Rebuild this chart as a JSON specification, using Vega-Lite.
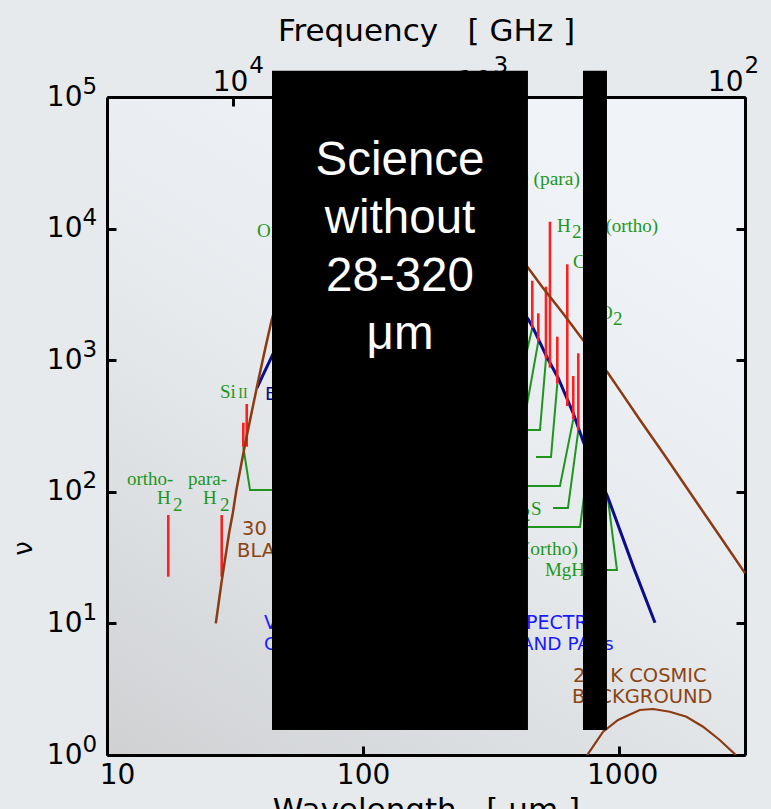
{
  "$schema": "https://vega.github.io/schema/vega-lite/v6.json",
  "width": 638,
  "height": 658,
  "autosize": {"type": "none"},
  "padding": {"left": 107, "top": 97, "right": 26, "bottom": 54},
  "background": "#e7eaed",
  "config": {
    "view": {"stroke": null, "fill": {"gradient": "linear", "x1": 0, "y1": 1, "x2": 0.6, "y2": 0, "stops": [{"offset": 0, "color": "#cfd1d3"}, {"offset": 0.55, "color": "#e7eaed"}, {"offset": 1, "color": "#f0f4f8"}]}},
    "font": "DejaVu Sans",
    "axis": {"grid": false, "domainColor": "#000000", "domainWidth": 3, "tickColor": "#000000", "tickWidth": 3, "labelColor": "#000000", "titleColor": "#000000", "labelFont": "DejaVu Sans", "titleFont": "DejaVu Sans", "labelOverlap": false, "labelFlush": false, "titleFontWeight": "normal"}
  },
  "datasets": {
    "bb30": [
      {"lam": 26.6, "val": 10}, {"lam": 28, "val": 20.5}, {"lam": 30, "val": 49}, {"lam": 31, "val": 69}, {"lam": 32, "val": 103},
      {"lam": 34.6, "val": 230}, {"lam": 36.5, "val": 380}, {"lam": 38.97, "val": 700}, {"lam": 41.5, "val": 1230}, {"lam": 43.96, "val": 2021},
      {"lam": 47, "val": 3200}, {"lam": 50, "val": 4300}, {"lam": 55, "val": 6500}, {"lam": 60, "val": 9200}, {"lam": 70, "val": 15700},
      {"lam": 80, "val": 21600}, {"lam": 100, "val": 29500}, {"lam": 120, "val": 32000}, {"lam": 150, "val": 29800}, {"lam": 200, "val": 22200},
      {"lam": 250, "val": 15600}, {"lam": 300, "val": 11100}, {"lam": 380, "val": 7000}, {"lam": 441.6, "val": 5019}, {"lam": 500, "val": 3620},
      {"lam": 600, "val": 2300}, {"lam": 722.3, "val": 1424}, {"lam": 800, "val": 1085}, {"lam": 904.4, "val": 799}, {"lam": 1000, "val": 600},
      {"lam": 1206, "val": 351}, {"lam": 1500, "val": 191}, {"lam": 2000, "val": 84}, {"lam": 2500, "val": 44.5}, {"lam": 3100, "val": 24.1}
    ],
    "dust": [
      {"lam": 38.53, "val": 615}, {"lam": 40.3, "val": 745}, {"lam": 50, "val": 1800}, {"lam": 60, "val": 3200}, {"lam": 80, "val": 6000},
      {"lam": 100, "val": 8000}, {"lam": 130, "val": 9300}, {"lam": 170, "val": 9000}, {"lam": 220, "val": 7400}, {"lam": 300, "val": 4700},
      {"lam": 380, "val": 3000}, {"lam": 441.6, "val": 2046}, {"lam": 461.9, "val": 1747}, {"lam": 521.2, "val": 1063}, {"lam": 578.5, "val": 729},
      {"lam": 661.9, "val": 395}, {"lam": 724.2, "val": 240}, {"lam": 901.7, "val": 91.8}, {"lam": 1135, "val": 27}, {"lam": 1380, "val": 10.1}
    ],
    "cmb": [
      {"lam": 720, "val": 0.88}, {"lam": 755.9, "val": 1.02}, {"lam": 865.5, "val": 1.503}, {"lam": 990, "val": 1.845}, {"lam": 1203, "val": 2.198},
      {"lam": 1356, "val": 2.236}, {"lam": 1576, "val": 2.133}, {"lam": 1831, "val": 1.954}, {"lam": 2126, "val": 1.641}, {"lam": 2470, "val": 1.3},
      {"lam": 2826, "val": 1.02}, {"lam": 2950, "val": 0.9}
    ],
    "redlines": [
      {"lam": 17.35, "val": 22.64, "val2": 66.63}, {"lam": 28.05, "val": 22.64, "val2": 66.63},
      {"lam": 34.06, "val": 220, "val2": 335}, {"lam": 35.13, "val": 220, "val2": 465},
      {"lam": 457.8, "val": 1750, "val2": 4018}, {"lam": 483.2, "val": 1384, "val2": 2271}, {"lam": 517.9, "val": 1026, "val2": 3620},
      {"lam": 536.8, "val": 879, "val2": 11280}, {"lam": 573.3, "val": 662, "val2": 1509}, {"lam": 627.1, "val": 448, "val2": 5355},
      {"lam": 661.9, "val": 355, "val2": 758}, {"lam": 692.4, "val": 292, "val2": 1128}
    ],
    "leaders": [
      {"grp": "a", "ord": 1, "lam": 34.06, "val": 218.9}, {"grp": "a", "ord": 2, "lam": 36.18, "val": 103.2}, {"grp": "a", "ord": 3, "lam": 56.71, "val": 103.2},
      {"grp": "b", "ord": 1, "lam": 342.3, "val": 695}, {"grp": "b", "ord": 2, "lam": 409.9, "val": 695}, {"grp": "b", "ord": 3, "lam": 457.8, "val": 1756},
      {"grp": "c", "ord": 1, "lam": 342.3, "val": 456.6}, {"grp": "c", "ord": 2, "lam": 436.5, "val": 456.6}, {"grp": "c", "ord": 3, "lam": 483.2, "val": 1385},
      {"grp": "d", "ord": 1, "lam": 342.3, "val": 294.8}, {"grp": "d", "ord": 2, "lam": 490.6, "val": 294.8}, {"grp": "d", "ord": 3, "lam": 517.9, "val": 1026},
      {"grp": "e", "ord": 1, "lam": 473.3, "val": 183.8}, {"grp": "e", "ord": 2, "lam": 541.7, "val": 183.8}, {"grp": "e", "ord": 3, "lam": 573.3, "val": 661.8},
      {"grp": "f", "ord": 1, "lam": 342.3, "val": 110.7}, {"grp": "f", "ord": 2, "lam": 587.3, "val": 110.7}, {"grp": "f", "ord": 3, "lam": 661.9, "val": 354.9},
      {"grp": "g", "ord": 1, "lam": 551.5, "val": 75.3}, {"grp": "g", "ord": 2, "lam": 631.0, "val": 75.3}, {"grp": "g", "ord": 3, "lam": 692.4, "val": 291.7},
      {"grp": "h", "ord": 1, "lam": 342.3, "val": 54.0}, {"grp": "h", "ord": 2, "lam": 703.1, "val": 54.0}, {"grp": "h", "ord": 3, "lam": 769.2, "val": 200.7},
      {"grp": "i", "ord": 1, "lam": 722.3, "val": 25.5}, {"grp": "i", "ord": 2, "lam": 980.4, "val": 25.5}, {"grp": "i", "ord": 3, "lam": 901.7, "val": 91.8}
    ],
    "labels": [
      {"kind": "gL", "t": "ortho-", "lam": 11.97, "val": 112.7},
      {"kind": "gL", "t": "H", "lam": 15.68, "val": 80.8},
      {"kind": "gL", "t": "2", "lam": 18.10, "val": 71.5},
      {"kind": "gL", "t": "para-", "lam": 20.72, "val": 112.7},
      {"kind": "gL", "t": "H", "lam": 23.71, "val": 80.8},
      {"kind": "gL", "t": "2", "lam": 27.63, "val": 71.5},
      {"kind": "gL", "t": "Si", "lam": 27.63, "val": 516.2},
      {"kind": "gL", "t": "O", "lam": 38.53, "val": 8636},
      {"kind": "gL", "t": "N", "lam": 388.5, "val": 15112},
      {"kind": "gL", "t": "H", "lam": 571.7, "val": 9424},
      {"kind": "gL", "t": "2", "lam": 654.2, "val": 8485},
      {"kind": "gL", "t": "O (ortho)", "lam": 748.6, "val": 9424},
      {"kind": "gL", "t": "C", "lam": 660.1, "val": 5019},
      {"kind": "gL", "t": "O", "lam": 834.0, "val": 2056},
      {"kind": "gL", "t": "2", "lam": 945.8, "val": 1851},
      {"kind": "gL", "t": "H", "lam": 364.7, "val": 66.63},
      {"kind": "gL", "t": "2", "lam": 413.6, "val": 59.99},
      {"kind": "gL", "t": "S", "lam": 452.5, "val": 66.63},
      {"kind": "gL", "t": "MgH", "lam": 513.2, "val": 22.92},
      {"kind": "gR", "t": "H₂O (para)", "lam": 703.1, "val": 21448},
      {"kind": "gR", "t": "H₂O (ortho)", "lam": 690.5, "val": 33.1},
      {"kind": "gS", "t": "II", "lam": 32.57, "val": 516.2},
      {"kind": "gS", "t": "I", "lam": 44.44, "val": 15112},
      {"kind": "gS", "t": "I", "lam": 43.70, "val": 8636},
      {"kind": "gS", "t": "I", "lam": 748.6, "val": 5019},
      {"kind": "br", "t": "30 K", "lam": 33.67, "val": 46.96},
      {"kind": "br", "t": "BLACKBODY", "lam": 32.19, "val": 31.96},
      {"kind": "br", "t": "2.7 K COSMIC", "lam": 660.1, "val": 3.587},
      {"kind": "br", "t": "BACKGROUND", "lam": 654.2, "val": 2.484},
      {"kind": "bl1", "t": "VARIOUS GALACTIC DUST SPECTRA", "lam": 41.03, "val": 9.067},
      {"kind": "bl2", "t": "CONTINUUM FROM GRAINS AND PAHs", "lam": 41.03, "val": 6.28},
      {"kind": "nv", "t": "BEST-FIT DUST SED", "lam": 41.40, "val": 498.4}
    ],
    "boxes": [
      {"lam": 44.09, "lam2": 440.4, "val": 1.5488, "val2": 158200},
      {"lam": 722.3, "lam2": 896.1, "val": 1.5488, "val2": 158200}
    ],
    "overlay": [
      {"t": "Science\nwithout\n28-320\nμm", "lam": 139.35, "val": 25540}
    ]
  },
  "layer": [
    {
      "encoding": {
        "x": {"field": "lam", "type": "quantitative", "scale": {"type": "log", "domain": [10, 3100], "nice": false},
          "axis": {"orient": "bottom", "values": [10, 100, 1000], "labelExpr": "'' + datum.value", "tickSize": -9, "labelPadding": 37, "labelBaseline": "alphabetic", "labelAlign": "center", "labelFontSize": 28,
            "labelOffset": {"condition": [{"test": "datum.value < 50", "value": 10}, {"test": "datum.value > 500", "value": 3}], "value": 0},
            "title": "Wavelength\u00a0\u00a0\u00a0[ μm ]", "titleFontSize": 31, "titleBaseline": "alphabetic", "titleY": 64, "titlePadding": 0}},
        "y": {"field": "val", "type": "quantitative", "scale": {"type": "log", "domain": [1, 100000], "nice": false},
          "axis": {"orient": "left", "values": [1, 10, 100, 1000, 10000, 100000], "labelExpr": "'10'", "tickSize": -9, "labelPadding": 34, "labelFontSize": 28, "labelBaseline": "middle", "labelAlign": "right",
            "title": "ν", "titleFontSize": 26, "titleAngle": 270, "titleX": -76, "titleY": 451, "titleAlign": "center", "titleBaseline": "alphabetic"}}
      },
      "layer": [
        {"data": {"name": "leaders"}, "mark": {"type": "line", "color": "#1e961e", "strokeWidth": 2},
          "encoding": {"detail": {"field": "grp", "type": "nominal"}, "order": {"field": "ord", "type": "quantitative"}}},
        {"data": {"name": "dust"}, "mark": {"type": "line", "color": "#0d0d8c", "strokeWidth": 3}, "encoding": {}},
        {"data": {"name": "redlines"}, "mark": {"type": "rule", "color": "#ff1f1f", "strokeWidth": 2.6}, "encoding": {"y2": {"field": "val2"}}},
        {"data": {"name": "bb30"}, "mark": {"type": "line", "color": "#8b3a12", "strokeWidth": 2.5}, "encoding": {}},
        {"data": {"name": "cmb"}, "mark": {"type": "line", "color": "#8b3a12", "strokeWidth": 2.2, "clip": true}, "encoding": {}},
        {"data": {"name": "labels"}, "transform": [{"filter": "datum.kind == 'gL'"}],
          "mark": {"type": "text", "align": "left", "baseline": "alphabetic", "font": "Liberation Serif", "fontSize": 19, "color": "#1e961e"},
          "encoding": {"text": {"field": "t"}}},
        {"data": {"name": "labels"}, "transform": [{"filter": "datum.kind == 'gR'"}],
          "mark": {"type": "text", "align": "right", "baseline": "alphabetic", "font": "Liberation Serif", "fontSize": 19.5, "color": "#1e961e"},
          "encoding": {"text": {"field": "t"}}},
        {"data": {"name": "labels"}, "transform": [{"filter": "datum.kind == 'gS'"}],
          "mark": {"type": "text", "align": "left", "baseline": "alphabetic", "font": "Liberation Serif", "fontSize": 14, "color": "#1e961e"},
          "encoding": {"text": {"field": "t"}}},
        {"data": {"name": "labels"}, "transform": [{"filter": "datum.kind == 'br'"}],
          "mark": {"type": "text", "align": "left", "baseline": "alphabetic", "font": "DejaVu Sans", "fontSize": 19.5, "color": "#8b4513"},
          "encoding": {"text": {"field": "t"}}},
        {"data": {"name": "labels"}, "transform": [{"filter": "datum.kind == 'bl1'"}],
          "mark": {"type": "text", "align": "left", "baseline": "alphabetic", "font": "DejaVu Sans", "fontSize": 19, "color": "#1a1aff"},
          "encoding": {"text": {"field": "t"}}},
        {"data": {"name": "labels"}, "transform": [{"filter": "datum.kind == 'bl2'"}],
          "mark": {"type": "text", "align": "left", "baseline": "alphabetic", "font": "DejaVu Sans", "fontSize": 18.5, "color": "#1a1aff"},
          "encoding": {"text": {"field": "t"}}},
        {"data": {"name": "labels"}, "transform": [{"filter": "datum.kind == 'nv'"}],
          "mark": {"type": "text", "align": "left", "baseline": "alphabetic", "font": "DejaVu Sans", "fontSize": 18.5, "color": "#0d0d8c"},
          "encoding": {"text": {"field": "t"}}},
        {"data": {"name": "boxes"}, "mark": {"type": "rect", "color": "#000000"}, "encoding": {"x2": {"field": "lam2"}, "y2": {"field": "val2"}}},
        {"data": {"name": "overlay"},
          "mark": {"type": "text", "align": "center", "baseline": "alphabetic", "font": "Liberation Sans", "fontSize": 47.5, "color": "#ffffff", "lineBreak": "\n", "lineHeight": 58},
          "encoding": {"text": {"field": "t"}}}
      ]
    },
    {
      "data": {"values": [{"lam": 100, "val": 10}]},
      "mark": {"type": "point", "opacity": 0},
      "encoding": {
        "x": {"field": "lam", "type": "quantitative", "scale": {"type": "log", "domain": [10, 3100], "nice": false},
          "axis": {"orient": "top", "values": [31, 310, 3100], "labelExpr": "'10'", "tickSize": -9, "labelPadding": 16, "labelBaseline": "alphabetic", "labelAlign": "right", "labelFontSize": 28,
            "labelOffset": {"condition": [{"test": "datum.value < 100", "value": 15}, {"test": "datum.value > 1000", "value": -2}], "value": 3},
            "title": "Frequency\u00a0\u00a0\u00a0[ GHz ]", "titleFontSize": 31, "titleBaseline": "alphabetic", "titleY": -57, "titlePadding": 0}},
        "y": {"field": "val", "type": "quantitative", "scale": {"type": "log", "domain": [1, 100000], "nice": false},
          "axis": {"orient": "right", "values": [1, 10, 100, 1000, 10000, 100000], "tickSize": -9, "labels": false, "title": null}}
      }
    },
    {
      "data": {"values": [{"lam": 100, "val": 10}]},
      "mark": {"type": "point", "opacity": 0},
      "encoding": {
        "x": {"field": "lam", "type": "quantitative", "scale": {"type": "log", "domain": [10, 3100], "nice": false},
          "axis": {"orient": "top", "values": [31, 310, 3100], "ticks": false, "tickSize": 0, "domain": false,
            "labelExpr": "datum.value < 100 ? '4' : (datum.value < 1000 ? '3' : '2')", "labelPadding": 25, "labelBaseline": "alphabetic", "labelAlign": "left", "labelFontSize": 23,
            "labelOffset": {"condition": [{"test": "datum.value < 100", "value": 16}, {"test": "datum.value > 1000", "value": -1}], "value": 4},
            "title": null}},
        "y": {"field": "val", "type": "quantitative", "scale": {"type": "log", "domain": [1, 100000], "nice": false},
          "axis": {"orient": "left", "values": [1, 10, 100, 1000, 10000, 100000], "ticks": false, "tickSize": 0, "domain": false,
            "labelExpr": "'' + round(log(datum.value) / LN10)", "labelPadding": 25, "labelAlign": "left", "labelBaseline": "alphabetic", "labelOffset": -4, "labelFontSize": 23,
            "title": null}}
      }
    }
  ],
  "resolve": {"scale": {"x": "independent", "y": "independent"}}
}
